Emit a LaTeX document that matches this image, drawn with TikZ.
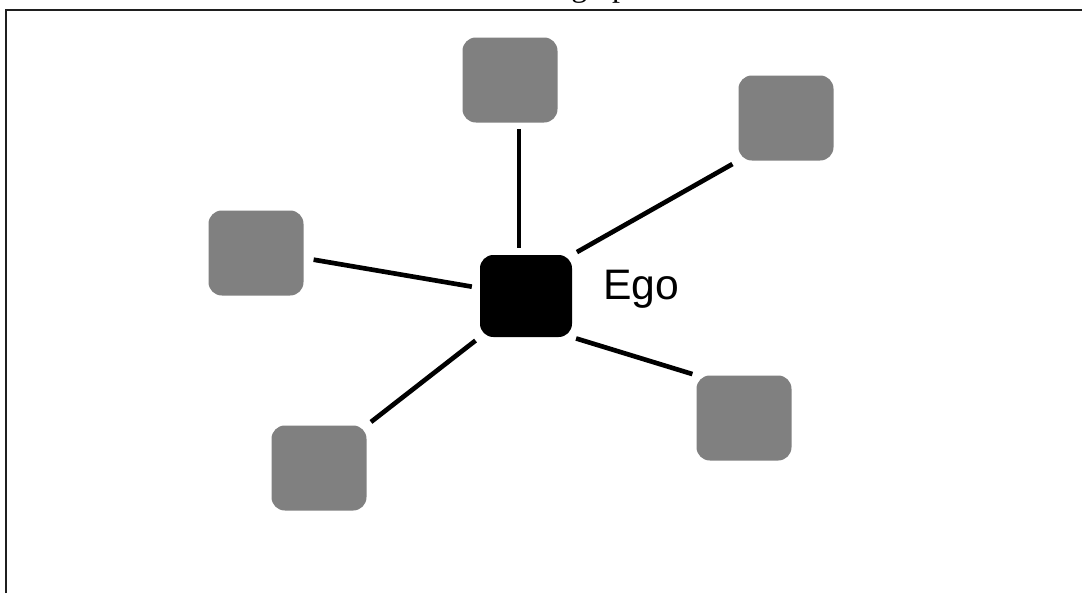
\documentclass[tikz,border=0pt]{standalone}
\usepackage{fontspec}
\setmainfont{Liberation Serif}
\newfontfamily\arialfont{Liberation Sans}
\definecolor{nodegray}{HTML}{808080}
\begin{document}
\begin{tikzpicture}[x=0.75pt,y=-0.75pt,
  alter/.style={fill=nodegray,draw=none,rounded corners=10pt,minimum width=71.25pt,minimum height=63.75pt,inner sep=0pt},
  egobox/.style={fill=black,draw=none,rounded corners=10pt,minimum width=69pt,minimum height=61.5pt,inner sep=0pt},
  tie/.style={line width=3.5pt,black},
  frame/.style={line width=1.5pt,black!88}]
\useasboundingbox (0,0) rectangle (1082,593);
\clip (0,0) rectangle (1082,593);
\fill[white] (0,0) rectangle (1082,593);
% partially visible caption
\node[anchor=base west,inner sep=0pt,font=\fontsize{24pt}{28pt}\selectfont] (cap) at (571,-4) {graph};
% frame
\draw[frame] (6,593) -- (6,10) -- (1082,10);
% nodes
\node[egobox] (ego) at (526,296) {};
\node[alter] (top) at (510,80) {};
\node[alter] (ur) at (786,118) {};
\node[alter] (lft) at (256,253) {};
\node[alter] (ll) at (319,468) {};
\node[alter] (lr) at (744,418) {};
\node[anchor=west,inner sep=0pt,font=\arialfont\fontsize{32pt}{36pt}\selectfont] (lab) at (603,289) {Ego};
% ties
\draw[tie,shorten <=4.5pt,shorten >=5pt] ([xshift=6.75pt]top.south) -- ([xshift=-5.25pt]ego.north);
\draw[tie,shorten <=4pt,shorten >=5pt] (ego.north east) -- (ur.south west);
\draw[tie,shorten <=7.5pt,shorten >=6pt] ([yshift=-3.75pt]lft.east) -- ([yshift=6pt]ego.west);
\draw[tie,shorten <=4pt,shorten >=4pt] (ego.south west) -- (ll.north east);
\draw[tie,shorten <=3pt,shorten >=3pt] (ego.south east) -- (lr.north west);
\end{tikzpicture}
\end{document}
